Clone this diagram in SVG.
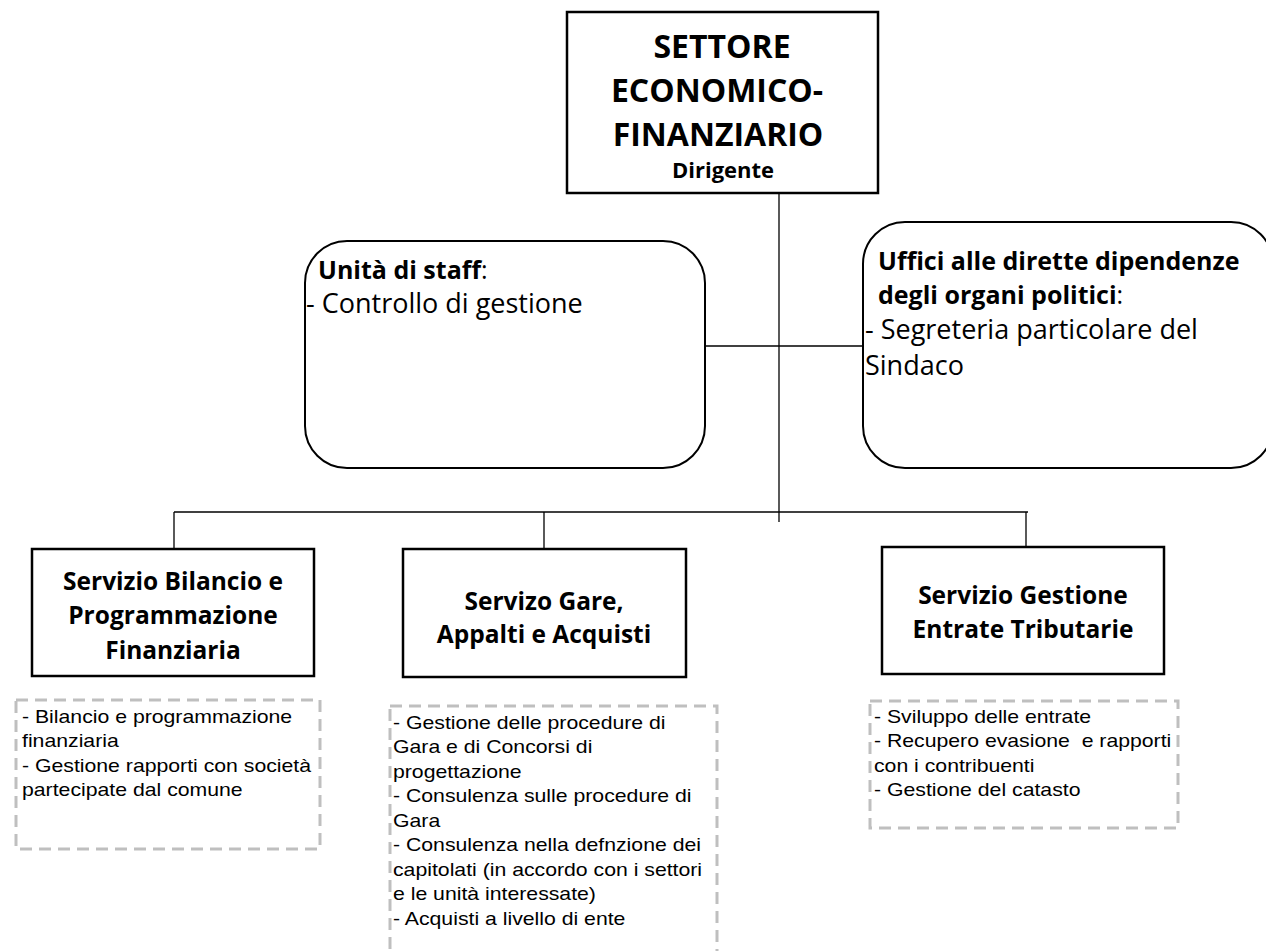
<svg xmlns="http://www.w3.org/2000/svg" width="1266" height="951" viewBox="0 0 1266 951">
<style>
.box{fill:#fff;stroke:#000;stroke-width:2.5}
.rbox{fill:#fff;stroke:#000;stroke-width:2}
.dash{fill:none;stroke:#bfbfbf;stroke-width:3;stroke-dasharray:12 7}
.conn{stroke:#000;stroke-width:1.3;fill:none}
.t{font-family:"Open Sans","Liberation Sans",sans-serif;fill:#000}
.b{font-weight:bold}
.ttl{font-size:32px;font-weight:bold;text-anchor:middle}
.sv{font-size:24.5px;font-weight:bold;text-anchor:middle}
.st{font-size:27px}
.sb{font-size:25px;font-weight:bold}
.d{font-family:"Liberation Sans",Arial,sans-serif;font-size:18px;fill:#000;white-space:pre}
</style>
<g id="connectors">
<line class="conn" x1="779" y1="193" x2="779" y2="522"/>
<line class="conn" x1="706" y1="346" x2="863" y2="346"/>
<line class="conn" x1="174" y1="512" x2="1028" y2="512"/>
<line class="conn" x1="174" y1="512" x2="174" y2="549"/>
<line class="conn" x1="544" y1="512" x2="544" y2="549"/>
<line class="conn" x1="1026" y1="512" x2="1026" y2="547"/>
</g>
<g id="settore">
<rect class="box" x="567" y="12" width="311" height="181"/>
<text class="t ttl" x="722" y="58">SETTORE</text>
<text class="t ttl" x="717" y="102">ECONOMICO-</text>
<text class="t ttl" x="718" y="146">FINANZIARIO</text>
<text class="t b" x="723" y="178" style="font-size:22px;text-anchor:middle">Dirigente</text>
</g>
<g id="staff">
<rect class="rbox" x="305" y="241" width="400" height="227" rx="42" ry="42"/>
<text class="t sb" x="318" y="279">Unità di staff<tspan style="font-weight:normal">:</tspan></text>
<text class="t st" x="306" y="313">- Controllo di gestione</text>
</g>
<g id="uffici">
<rect class="rbox" x="863" y="222" width="410" height="246" rx="42" ry="42"/>
<text class="t sb" x="878" y="270">Uffici alle dirette dipendenze</text>
<text class="t sb" x="878" y="304">degli organi politici<tspan style="font-weight:normal">:</tspan></text>
<text class="t st" x="865" y="339">- Segreteria particolare del</text>
<text class="t st" x="865" y="375">Sindaco</text>
</g>
<g id="bilancio">
<rect class="box" x="32" y="549" width="282" height="127"/>
<text class="t sv" x="173" y="590">Servizio Bilancio e</text>
<text class="t sv" x="173" y="624">Programmazione</text>
<text class="t sv" x="173" y="659">Finanziaria</text>
</g>
<g id="gare">
<rect class="box" x="403" y="549" width="283" height="128"/>
<text class="t sv" x="544" y="610">Servizo Gare,</text>
<text class="t sv" x="544" y="643">Appalti e Acquisti</text>
</g>
<g id="entrate">
<rect class="box" x="882" y="547" width="282" height="127"/>
<text class="t sv" x="1023" y="604">Servizio Gestione</text>
<text class="t sv" x="1023" y="638">Entrate Tributarie</text>
</g>
<g id="bilancio-dett">
<rect class="dash" x="16" y="700" width="304" height="149"/>
<g transform="translate(22,0) scale(1.18,1)">
<text class="d" x="0" y="723">- Bilancio e programmazione</text>
<text class="d" x="0" y="747.5">finanziaria</text>
<text class="d" x="0" y="772">- Gestione rapporti con società</text>
<text class="d" x="0" y="796.5">partecipate dal comune</text>
</g>
</g>
<g id="gare-dett">
<rect class="dash" x="390" y="706" width="327" height="260"/>
<g transform="translate(393,0) scale(1.18,1)">
<text class="d" x="0" y="729">- Gestione delle procedure di</text>
<text class="d" x="0" y="753.5">Gara e di Concorsi di</text>
<text class="d" x="0" y="778">progettazione</text>
<text class="d" x="0" y="802.5">- Consulenza sulle procedure di</text>
<text class="d" x="0" y="827">Gara</text>
<text class="d" x="0" y="851.5">- Consulenza nella defnzione dei</text>
<text class="d" x="0" y="876">capitolati (in accordo con i settori</text>
<text class="d" x="0" y="900.5">e le unità interessate)</text>
<text class="d" x="0" y="925">- Acquisti a livello di ente</text>
</g>
</g>
<g id="entrate-dett">
<rect class="dash" x="870" y="701" width="308" height="127"/>
<g transform="translate(874,0) scale(1.18,1)">
<text class="d" x="0" y="723">- Sviluppo delle entrate</text>
<text class="d" x="0" y="747.5">- Recupero evasione  e rapporti</text>
<text class="d" x="0" y="772">con i contribuenti</text>
<text class="d" x="0" y="796.5">- Gestione del catasto</text>
</g>
</g>
</svg>
